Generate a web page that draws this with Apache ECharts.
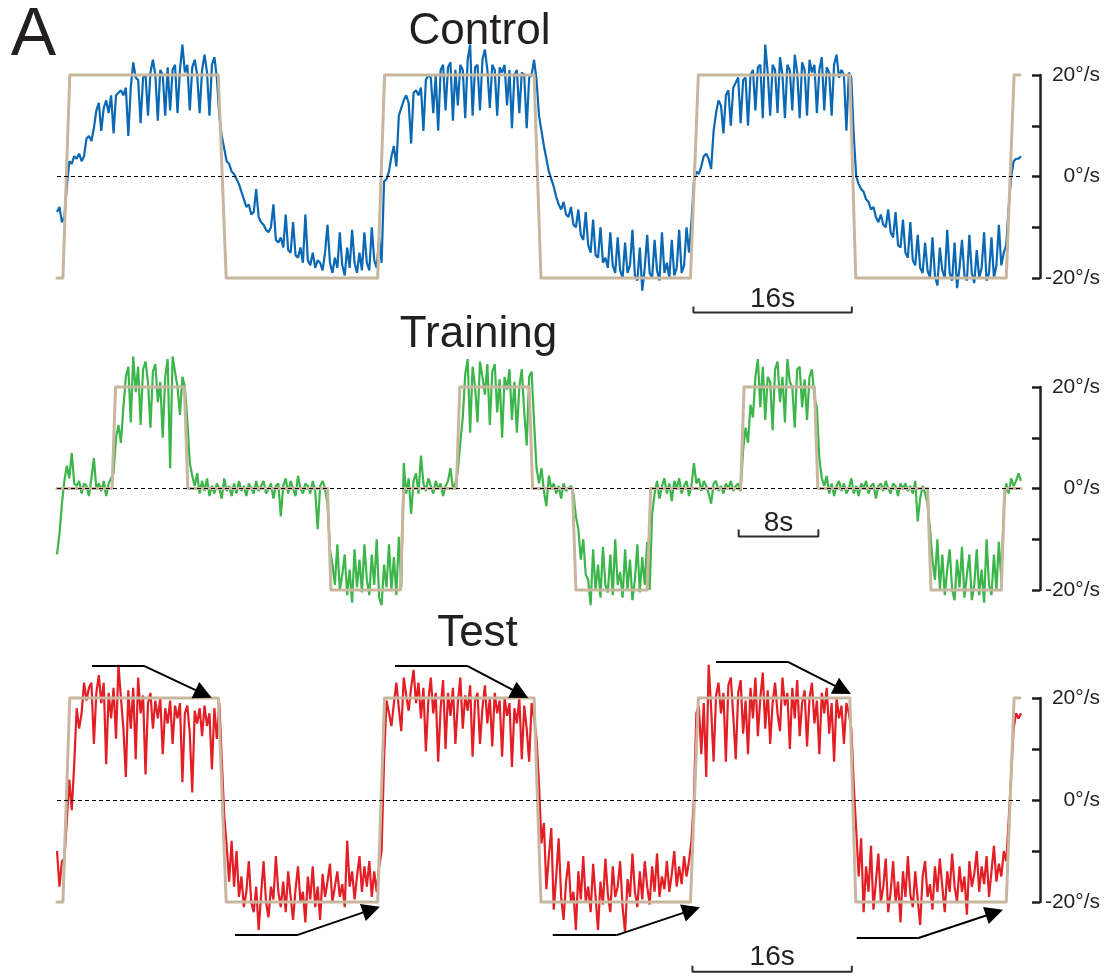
<!DOCTYPE html>
<html>
<head>
<meta charset="utf-8">
<script src="https://cdn.jsdelivr.net/npm/echarts/dist/echarts.min.js"></script>
<style>html,body{margin:0;padding:0;background:#fff}#chart{width:1110px;height:976px}</style>
</head>
<body>
<div id="chart"></div>
<script>
// ---------- DATA ----------
const sampleStep = 0.25; // seconds between samples of the eye-velocity traces

const controlResponse = [
-7,-6,-9,-8, -2,3,2.5,4, 3.5,4.5,3,4, 7.5,8,7,9.5,
13,14.5,9,13.5, 15,12.5,16,8.5, 16,16.5,17,16, 17.5,8,17.5,22.5,
19.5,19,10.5,19.5, 20,12,20.5,23, 20,11,21,20, 12,21.5,13,21,
22,12.5,21,26, 20.5,22,13,21.5, 23,20,12.5,21, 24,20.5,12,22,
23.5,19.5,12,8, 5.5,3,2.5,1, 0.5,-0.5,-1.5,-3, -4.5,-6,-5.5,-7.5,
-7,-2.5,-8,-9, -9.5,-10.5,-11,-10, -5.5,-12.5,-13,-12, -14,-7.5,-14.5,-15,
-9,-15.5,-16,-14, -17,-7.5,-16.5,-17.5, -15,-18,-16.5,-17, -18.5,-15,-9.5,-17,
-19,-16,-18,-11, -17.5,-19.5,-14,-18, -10.5,-17,-19,-15, -18.5,-11,-17,-18.5,
-10,-16.5,-18,-12, -17,-1,-0.5,1, 4,6,2,12, 13.5,15,16,14.5,
6.5,16.5,17,16, 17.5,9,19,20, 19.5,12.5,20,9, 21,22,13,21.5,
22.5,11,21,14, 22,21,11.5,23, 26,12,21.5,22, 13,23,25,21,
13.5,22,21,12, 21.5,20.5,22,14, 21,9.5,20,21, 12.5,20.5,20,9.5,
19.5,20,23,19, 12,9,6,3.5, 1,-0.5,-2,-4, -5.5,-6.5,-5,-7.5,
-8,-6,-9.5,-10, -6.5,-11.5,-12.5,-7, -13.5,-15,-8.5,-15.5, -16,-10,-17,-16,
-18,-11,-17.5,-19, -12,-18.5,-20,-13, -19,-17.5,-10.5,-19.5, -20.5,-14,-22.5,-18,
-11.5,-19,-20,-12.5, -18.5,-20.5,-11,-19, -17,-20,-12.5,-19.5, -18,-10.5,-19,-17.5,
-10,-15,-9,-1, 1,0.5,2,4, 4.5,3.5,1.5,9, 12.5,15,14,8.5,
16,17,10,17.5, 18.5,19.5,10.5,19, 19.5,10,20,21, 13,21.5,22,11.5,
26,20.5,12,22, 21,12.5,23.5,20, 11.5,22,21,13, 24,20.5,11.5,22.5,
21,12,23,20.5, 22,12.5,21,23.5, 13,21.5,20.5,12, 22,24,19.5,21,
20,9,20.5,19.5, 8,0,-1.5,-2.5, -3,-4.5,-5,-6.5, -6,-8,-9,-7.5,
-9.5,-10,-6.5,-11, -12,-7,-13.5,-14, -8.5,-15,-16,-9, -16.5,-17.5,-11.5,-18,
-19,-13,-18.5,-20, -12,-19.5,-21.5,-14, -18.5,-20,-10.5,-19, -20.5,-13,-22,-18,
-12.5,-19.5,-20.5,-11.5, -19,-21,-14.5,-20, -18,-11,-20.5,-19, -12,-20,-17.5,-9.5,
-17.5,-15,-13.5,-6, 0,3,3.5,3.5, 4
];

const trainingResponse = [
-13,-9,-3,1.5, 4.5,2,7,1, 0.5,1.5,-1,1, 0.5,-1.5,2,6,
0,1,-0.5,1.5, -1.5,1,2,3, 10,12.5,9,16, 22,24,13,26,
19,24,12.5,23.5, 25,21,12,23, 24.5,17,21,10, 22,25.5,4,26,
23,20,14.5,22, 20,13.5,5,2.5, 0.5,3,-1,1.5, -0.5,2,-1.5,0.5,
-1,1,0,-2, 2,-0.5,0.5,-1.5, 1,-1,1.5,-0.5, 0.5,-1.5,1,0,
-1,1.5,-0.5,0.5, 1.5,-1,0,1, -2,0.5,1,-5.5, 0.5,2,-1,1.5,
0,-1.5,2.5,0, -1,1,0.5,-1, 1.5,-0.5,-8,0.5, 1.5,0,-3,-12,
-15,-19,-11,-20, -17,-13,-21,-16, -22.5,-12,-19.5,-14, -20.5,-11,-18,-21,
-13,-19,-10,-21.5, -23,-15,-19.5,-11, -20,-13.5,-21,-9.5, -19.5,5,-1,2,
-5,1.5,3,-1, 6.5,1,-0.5,2, 0.5,-1,1.5,0, 1,-1.5,0.5,1.5,
4,0,1,3.5, 9,14,22.5,25.5, 11,24,20,13, 25,22,18.5,24.5,
12.5,23,24.5,15, 21.5,10,22,19.5, 23.5,13.5,21,11, 20,23.5,15,8.5,
22,23,13,4, 1,4,-0.5,-3.5, 2.5,0,1,-1, 0.5,-2,1,-0.5,
0,0.5,-1,-5.5, -8,-14,-10,-17, -18,-23,-12,-20, -15,-21.5,-11.5,-19,
-20.5,-13,-21,-10, -19,-16.5,-21.5,-12, -20,-14,-22,-18, -11,-20.5,-13.5,-19,
-10.5,-20,-5,-1, 1.5,-2,0.5,2, -1,1,-2.5,1.5, 0,2,-1,0.5,
1.5,-1.5,0.5,5, 1,2,-0.5,1.5, 0.5,-1,-3,1, 1.5,-0.5,0.5,-1,
1,0,1.5,-0.5, 0.5,1,-0.5,7.5, 12,9,16.5,14, 22,25.5,16,24,
13.5,22,21,11.5, 23.5,25,17,22, 13,25.5,21,20, 12,23.5,24,16,
21.5,13.5,22,23.5, 18,16,6,2, 0.5,2.5,-1,1, -1.5,0.5,1.5,-0.5,
1,-1,0,2, -1,0.5,-1.5,1, 0,1.5,-1,0.5, 1,-2,0.5,1,
-0.5,1.5,0,-1, 1,0.5,-1.5,1, 0,1,-0.5,0.5, -1,1.5,-6.5,-2,
0.5,-1,-3,-8, -14,-18,-10,-20, -13,-21,-16,-12, -20,-22,-14,-19.5,
-11.5,-21.5,-17,-13, -22,-19,-12,-21, -16,-22.5,-10,-19, -21,-13,-20,-10.5,
-18,-4,1,-1, 2,0.5,1.5,3, 1.5
];

const testResponse = [
-10,-17,-12,-11.5, -4,4,-2,7, 18,14,17,23, 19.5,22,23,11,
21,24.5,19,23, 7,21,16,22, 12,26.5,20,14, 4.5,21.5,14,22,
8,24,17,20.5, 5,19,21,14, 19.5,16,20,9, 18,15,19.5,11,
18.5,16,19,3.5, 17,18.5,13,1.5, 17.5,15,18,12.5, 18.5,14.5,17,6,
18,12,19,8, -3,-9,-16,-8, -17,-10,-19,-15, -21,-18,-12,-20,
-22,-17,-25.5,-18.5, -12,-20,-23,-17, -19.5,-11,-18,-21, -16,-22,-14,-19,
-23.5,-17.5,-13,-20, -18,-24,-15,-19.5, -13,-21,-17,-23.5, -14.5,-19,-16,-12.5,
-20,-17,-14,-19, -16.5,-21,-8,-17, -14,-19.5,-15,-11, -18,-13,-17,-12,
-19,-14,-18,-13, -10,8,19.5,17, 14.5,19,23,18, 13.5,24,20.5,17.5,
22,25.5,19,23, 16,22,9.5,19.5, 24,17,21,7.5, 18,23.5,10,21,
16.5,22,11,19, 24,14,20.5,17.5, 22.5,8.5,19.5,21, 11,18,22.5,15,
20,10.5,21,17, 19.5,8.5,20,16.5, 19,6.5,18,15, 20,8,18.5,14,
7.5,19,16,12, 3,-8.5,-4.5,-17.5, -11,-5.5,-21.5,-15, -7.5,-19,-23.5,-16,
-12,-20,-18,-25.5, -14,-19.5,-11,-20, -17,-22,-12.5,-19, -25.5,-16,-20.5,-11.5,
-18.5,-22,-13,-19, -17,-12,-21,-26, -15.5,-19,-10.5,-18, -21,-14,-19.5,-12,
-17,-20.5,-13,-18, -10.5,-19,-15,-17.5, -12,-18,-14.5,-10, -17,-13,-16.5,-11,
-15,-12,-8,0.5, 17,18.5,9,19, 4.5,26.5,18,7.5, 20.5,23,17,21,
7.5,22.5,24,16.5, 8,21,23.5,13, 19.5,9,22,16, 24,12.5,20,25,
14,21.5,11,19, 23,17,13.5,24, 18.5,21,10,22, 16,23.5,12.5,19,
21.5,10.5,20,23, 15,19.5,9,21, 17,22,13,19, 7.5,20,16,18.5,
11,19,17,14, 3,-6,-15,-7.5, -22,-13,-18,-9, -21.5,-16,-10.5,-20,
-17,-11.5,-22,-18, -12,-20,-16,-24, -14,-19,-11,-18.5, -21,-14,-19.5,-24.5,
-15,-12,-19,-16.5, -21.5,-13,-18,-11.5, -17,-22,-14,-18, -10.5,-17,-20,-13,
-18,-15,-22.5,-12, -17,-14.5,-10,-18, -13,-16.5,-11,-19, -14,-9,-16,-12.5,
-15,-10,-12,-4, 5,14,17,16, 17
];

// stimulus (drum velocity) breakpoints, seconds / deg per s
const stimulusTimesCT = [0, 0.6, 1.3, 16.4, 17.2, 32.6, 33.3, 48.5, 49.2, 64.4, 65.2, 80.6, 81.2, 96.5, 97.3, 97.9];
const stimulusValuesCT = [-20, -20, 20, 20, -20, -20, 20, 20, -20, -20, 20, 20, -20, -20, 20, 20];
const stimulusTimesTraining = [0, 5.6, 5.95, 12.95, 13.3, 27.5, 27.85, 34.9, 35.25, 40.6, 40.95, 48.0, 48.35, 52.4, 52.75, 60.0, 60.35, 69.5, 69.85, 77.0, 77.35, 88.5, 88.85, 96.0, 96.35, 98];
const stimulusValuesTraining = [0, 0, 20, 20, 0, 0, -20, -20, 0, 0, 20, 20, 0, 0, -20, -20, 0, 0, 20, 20, 0, 0, -20, -20, 0, 0];

const axisTickLabels = { '20': '20°/s', '0': '0°/s', '-20': '-20°/s' };
const panelTitles = ['Control', 'Training', 'Test'];

// scale bars: [start s, end s, bar level, tick-top level, label level, label]
const scaleBars = [
  [64.7, 80.8, -26.8, -25.6, -24.2, '16s'],
  [69.3, 77.4, -9.45, -8.1, -6.8, '8s'],
  [64.6, 80.8, -33.7, -32.5, -30.9, '16s']
];

// Test-panel arrows: shaft start (s), bend (s), level, arrowhead time, arrowhead value
const arrowStart = [3.56, 18.1, 34.35, 50.4, 67.0, 81.3];
const arrowBend = [8.84, 24.4, 41.7, 56.9, 74.3, 87.5];
const arrowLevel = [26.3, -26.5, 26.3, -26.5, 27.1, -27.1];
const arrowHeadT = [14.9, 31.96, 47.1, 64.5, 79.9, 95.3];
const arrowHeadV = [20.8, -21.5, 20.8, -21.6, 21.6, -22.1];

// ---------- CHART ----------
const FONT = '"Liberation Sans", Arial, Helvetica, sans-serif';
const INK = '#231f20';
const STIM = '#c8b69e';
const traceColors = ['#0a68b4', '#3cb54a', '#e31e24'];

function toPairs(values) { return values.map((v, i) => [i * sampleStep, v]); }
function stimPairs(ts, vs) { return ts.map((t, i) => [t, vs[i]]); }

const responses = [controlResponse, trainingResponse, testResponse];
const stimuli = [
  stimPairs(stimulusTimesCT, stimulusValuesCT),
  stimPairs(stimulusTimesTraining, stimulusValuesTraining),
  stimPairs(stimulusTimesCT, stimulusValuesCT)
];

const grids = [
  { left: 57, width: 964, top: 75, height: 203 },
  { left: 57, width: 964, top: 387, height: 203 },
  { left: 57, width: 964, top: 698, height: 204 }
];

const xAxes = grids.map((g, i) => ({ gridIndex: i, type: 'value', min: 0, max: 98, show: false }));
const yAxes = grids.map((g, i) => ({
  gridIndex: i, type: 'value', min: -20, max: 20, interval: 10,
  position: 'right', offset: 19,
  axisLine: { show: true, onZero: false, lineStyle: { color: INK, width: 2.5 } },
  axisTick: { show: true, inside: true, length: 8, lineStyle: { color: INK, width: 2.5 } },
  axisLabel: {
    show: true, align: 'right', margin: 60, fontSize: 21, color: INK, fontFamily: FONT,
    formatter: v => axisTickLabels[String(v)] || ''
  },
  splitLine: { show: false }
}));

const series = [];
for (let i = 0; i < 3; i++) {
  series.push({
    type: 'line', xAxisIndex: i, yAxisIndex: i, data: toPairs(responses[i]),
    symbol: 'none', showSymbol: false, clip: false, z: 2,
    lineStyle: { color: traceColors[i], width: 2.2 }
  });
  series.push({
    type: 'line', xAxisIndex: i, yAxisIndex: i, data: stimuli[i],
    symbol: 'none', showSymbol: false, clip: false, z: 3,
    lineStyle: { color: STIM, width: 3, join: 'round', cap: 'round' },
    markLine: {
      silent: true, symbol: ['none', 'none'], label: { show: false },
      lineStyle: { color: '#000', type: [4, 3], width: 1 },
      data: [{ yAxis: 0 }], animation: false
    }
  });
  const b = scaleBars[i];
  series.push({
    type: 'line', xAxisIndex: i, yAxisIndex: i, clip: false, symbol: 'none', z: 4,
    data: [[b[0], b[3]], [b[0], b[2]], [b[1], b[2]], [b[1], b[3]]],
    lineStyle: { color: '#2e2e2e', width: 2 }
  });
  series.push({
    type: 'scatter', xAxisIndex: i, yAxisIndex: i, clip: false, symbolSize: 0, z: 4,
    itemStyle: { opacity: 1 },
    data: [[(b[0] + b[1]) / 2, b[4]]],
    label: { show: true, position: 'inside', formatter: b[5], fontSize: 28, color: INK, fontFamily: FONT, opacity: 1 }
  });
}

series.push({
  type: 'lines', coordinateSystem: 'cartesian2d', xAxisIndex: 2, yAxisIndex: 2, clip: false, z: 5,
  polyline: false, symbol: ['none', 'none'],
  lineStyle: { color: '#000', width: 2, opacity: 1, curveness: 0 },
  data: arrowStart.map((t, k) => ({ coords: [[t, arrowLevel[k]], [arrowBend[k], arrowLevel[k]]] }))
});
series.push({
  type: 'lines', coordinateSystem: 'cartesian2d', xAxisIndex: 2, yAxisIndex: 2, clip: false, z: 5,
  polyline: false, symbol: ['none', 'triangle'], symbolSize: 18,
  lineStyle: { color: '#000', width: 2, opacity: 1, curveness: 0 },
  data: arrowBend.map((t, k) => ({ coords: [[t, arrowLevel[k]], [arrowHeadT[k], arrowHeadV[k]]] }))
});

const titleCenters = [[479.5, 31.6], [478.5, 334.5], [477.5, 633.5]];
const graphics = panelTitles.map((txt, i) => ({
  type: 'text', x: titleCenters[i][0], y: titleCenters[i][1], z: 10,
  style: { text: txt, fill: INK, font: '44px ' + FONT, textAlign: 'center', textVerticalAlign: 'middle' }
}));
graphics.push({
  type: 'text', x: 33.5, y: 36, z: 10,
  style: { text: 'A', fill: INK, font: '68px ' + FONT, textAlign: 'center', textVerticalAlign: 'middle' }
});

const chart = echarts.init(document.getElementById('chart'), null, { renderer: 'canvas' });
chart.setOption({
  animation: false,
  backgroundColor: '#ffffff',
  grid: grids,
  xAxis: xAxes,
  yAxis: yAxes,
  series: series,
  graphic: graphics
});
</script>
</body>
</html>
